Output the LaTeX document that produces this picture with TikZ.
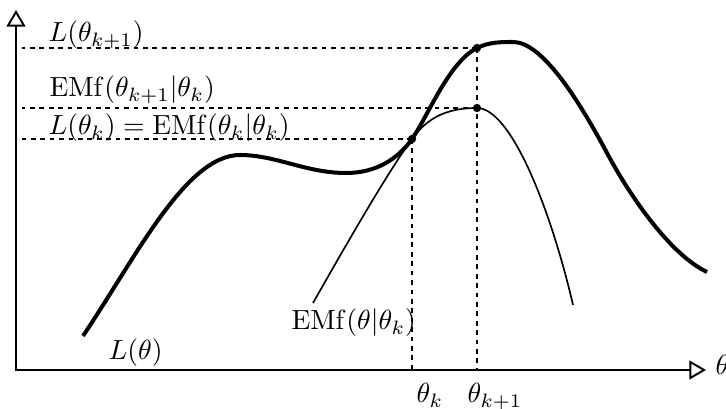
\documentclass[tikz,border=0pt]{standalone}
\usetikzlibrary{arrows.meta}
\begin{document}
\begin{tikzpicture}[x=1.27mm,y=1.27mm,
    every node/.style={inner sep=0pt,anchor=base west,font=\fontsize{9.6pt}{11pt}\selectfont},
    axis/.style={line width=.7pt,{Triangle[open,length=6pt,width=6.8pt]}-{Triangle[open,length=6pt,width=6.8pt]}},
    guide/.style={line width=.6pt,dash pattern=on 1.7pt off 1.7pt},
    likcurve/.style={line width=1.45pt},
    emcurve/.style={line width=.6pt}]
    \useasboundingbox (-1.6,-3.9) rectangle (71.0,37.0);
    \coordinate (O) at (0,0);
    \coordinate (ystart) at (0.6,0);
    \coordinate (pk) at (39.6,23.1);
    \coordinate (pnextL) at (46.1,32.2);
    \coordinate (pnextQ) at (46.1,26.2);
    % axes
    \draw[axis] (0,36) -- (O) -- (69,0);
    % guide lines
    \draw[guide] (pnextL) -- (pnextL -| ystart);
    \draw[guide] (pnextQ) -- (pnextQ -| ystart);
    \draw[guide] (pk) -- (pk -| ystart);
    \draw[guide] (pk) -- (pk |- O);
    \draw[guide] (pnextL) -- (pnextL |- O);
    % L(theta)
    \draw[likcurve] (6.7,3.4) .. controls (12,11.3) and (17,21.5) .. (22.4,21.5)
        .. controls (26,21.5) and (29,19.7) .. (33,19.7)
        .. controls (36,19.7) and (38.2,21.1) .. (pk)
        .. controls (41.2,25.4) and (43.3,30.8) .. (pnextL)
        .. controls (47.3,32.8) and (48.5,32.8) .. (49.7,32.8)
        .. controls (52.5,32.8) and (56,27.5) .. (59.1,21.7)
        .. controls (61.5,17.2) and (65.5,11.5) .. (69.1,9.8);
    % EMf(theta|theta_k)
    \draw[emcurve] (29.7,6.7) .. controls (33,12.5) and (37,19.5) .. (pk)
        .. controls (41.3,25.5) and (43.5,26.2) .. (pnextQ)
        .. controls (49.5,26.2) and (53.5,16) .. (55.7,6.5);
    \foreach \p in {pk,pnextL,pnextQ}
        \fill (\p) circle (1.5pt);
    % labels
    \node (Lnext) at (3.2,32.8) {$L(\theta_{k+1})$};
    \node (Qnext) at (3.3,27.3) {$\mathrm{EMf}(\theta_{k+1}|\theta_k)$};
    \node (Lk) at (3.2,23.5) {$L(\theta_k) = \mathrm{EMf}(\theta_k|\theta_k)$};
    \node (Qlab) at (27.5,4.0) {$\mathrm{EMf}(\theta|\theta_k)$};
    \node (Llab) at (9.2,1.0) {$L(\theta)$};
    \node (tk) at (40.0,-3.3) {$\theta_k$};
    \node (tnext) at (45.1,-3.3) {$\theta_{k+1}$};
    \node (th) at (69.9,-0.5) {$\theta$};
\end{tikzpicture}
\end{document}
